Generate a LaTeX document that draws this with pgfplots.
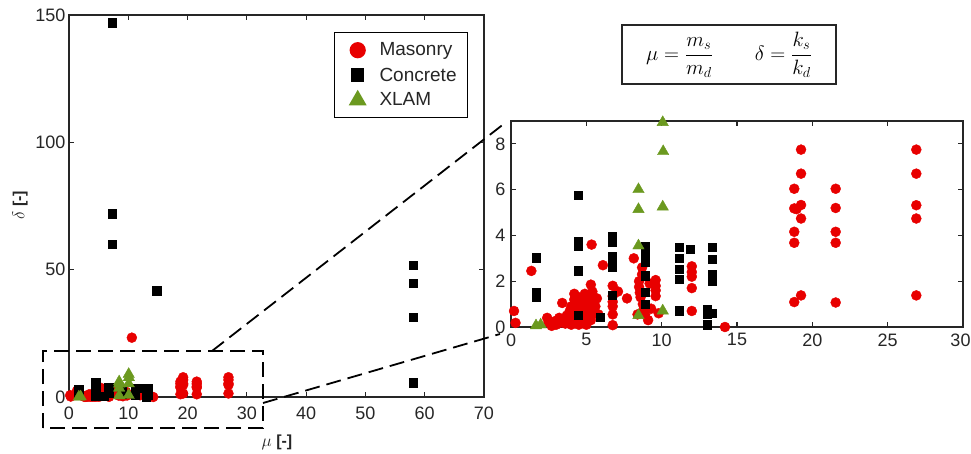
\documentclass[border=0pt]{standalone}
\usepackage{pgfplots}
\pgfplotsset{compat=1.18}
\usepackage{pgfplotstable}
\usepackage{fontspec}
\setmainfont{Liberation Sans}
\definecolor{mred}{RGB}{232,0,0}
\definecolor{xgreen}{RGB}{107,153,31}
\definecolor{axgray}{RGB}{38,38,38}

\pgfplotstableread{
x y
0.2 0.70
0.3 0.18
1.35 2.45
2.4 0.40
2.5 0.20
2.7 0.05
2.9 0.25
3.0 0.10
3.2 0.40
3.3 0.20
3.4 1.05
3.5 0.35
3.6 0.15
3.7 0.50
3.8 0.30
3.9 0.70
4.0 0.10
4.0 0.90
4.1 0.45
4.2 1.20
4.2 1.45
4.3 0.25
4.3 0.75
4.4 1.00
4.5 0.10
4.5 1.30
4.6 0.55
4.7 0.85
4.7 1.15
4.8 0.35
4.9 1.45
4.9 0.70
5.0 0.10
5.0 1.00
5.1 0.50
5.2 1.25
5.2 0.80
5.3 1.85
5.3 0.30
5.4 1.55
5.4 0.60
5.5 1.10
5.6 0.90
5.7 1.25
5.8 0.55
6.1 2.70
5.35 3.60
6.75 1.80
6.75 1.35
6.75 1.10
6.75 0.90
6.75 0.55
6.75 0.08
7.1 1.55
7.7 1.25
8.15 3.00
8.4 0.55
8.5 2.00
8.5 1.75
8.55 1.50
8.6 1.30
8.7 2.60
8.7 2.30
8.75 1.00
8.8 0.75
8.9 0.55
9.1 0.30
9.2 1.90
9.3 0.80
9.6 2.05
9.6 1.80
9.6 1.60
9.6 1.35
9.8 0.60
12.0 2.65
12.0 2.40
12.0 2.20
12.0 1.70
12.0 0.70
14.2 0.00
18.8 6.04
18.8 5.18
18.95 5.15
18.8 4.16
18.8 3.68
18.8 1.09
19.25 7.75
19.25 6.70
19.25 5.33
19.25 4.74
19.25 1.38
21.55 6.04
21.55 5.20
21.55 4.16
21.55 3.68
21.55 1.07
26.9 7.75
26.9 6.70
26.9 5.32
26.9 4.74
26.9 1.38
}\masonry

\pgfplotstableread{
x y
10.6 23.3
}\masonryout

\pgfplotstableread{
x y
1.66 3.03
1.66 1.51
1.66 1.33
4.47 5.75
4.47 3.72
4.47 3.55
4.47 2.46
4.47 0.52
5.91 0.43
6.73 3.94
6.73 3.72
6.73 3.07
6.73 2.64
6.73 1.38
8.9 3.50
8.9 3.29
8.9 3.07
8.9 2.86
8.9 2.25
8.9 1.51
8.9 1.00
11.16 3.48
11.16 3.00
11.16 2.52
11.16 2.09
11.16 0.71
11.89 3.41
13.04 0.78
13.04 0.58
13.04 0.10
13.37 3.48
13.37 2.96
13.37 2.28
13.37 2.03
13.37 0.61
}\concrete

\pgfplotstableread{
x y
7.3 147
7.3 71.9
7.3 60.1
14.8 41.8
58.1 51.7
58.1 44.7
58.1 31.3
58.1 5.6
}\concreteout

\pgfplotstableread{
x y
1.66 0.06
1.97 0.10
8.46 6.01
8.46 5.14
8.46 3.55
8.46 0.51
10.07 8.94
10.1 7.67
10.07 5.25
10.07 0.71
}\xlam

\pgfplotsset{
  myaxis/.style={
    scale only axis, anchor=south west, clip=false,
    axis line style={axgray, line width=1.4pt},
    every tick/.style={axgray, line width=1.2pt},
    tick align=inside, major tick length=5pt,
    /pgf/number format/assume math mode=true,
    tick label style={font=\fontsize{18}{20}\selectfont, text=axgray},
    scaled ticks=false,
  },
  pmas/.style={only marks, mark=*, mark size=5pt, color=mred},
  pcon/.style={only marks, mark=square*, mark size=4.2pt, color=black},
  pxl/.style={only marks, mark=triangle*, mark size=6.6pt, color=xgreen},
  lgimg/.style={legend image code/.code={\path[draw=none, fill=none] (-7pt,0pt) -- (7pt,0pt);
      \draw[##1] plot coordinates {(7pt,0pt)};}},
}

\begin{document}
\begin{tikzpicture}[x=1pt,y=1pt]
\path[use as bounding box] (0,0) rectangle (971,453);

\begin{axis}[myaxis, at={(69pt,56pt)}, width=415pt, height=382pt,
  xmin=0, xmax=70, ymin=0, ymax=150,
  xtick={0,10,...,70}, ytick={0,50,100,150},
  xticklabel style={yshift=-6pt},
  legend style={at={(0.6386,0.9555)}, anchor=north west, draw=black, line width=1.4pt,
    font=\fontsize{19}{22}\selectfont, text=axgray, inner xsep=9pt, inner ysep=5pt,
    nodes={inner sep=2pt, minimum height=25pt},
    row sep=0pt,
    /tikz/every odd column/.style={column sep=12pt}},
  legend cell align=left,
]
\addlegendimage{only marks, mark=*, mark size=7.4pt, color=mred, lgimg}
\addlegendentry{Masonry}
\addlegendimage{only marks, mark=square*, mark size=6pt, color=black, lgimg}
\addlegendentry{Concrete}
\addlegendimage{only marks, mark=triangle*, mark size=9pt, color=xgreen, lgimg}
\addlegendentry{XLAM}
\addplot[pmas, forget plot] table {\masonry};
\addplot[pmas, forget plot] table {\masonryout};
\addplot[pcon, forget plot] table {\concrete};
\addplot[pcon, forget plot] table {\concreteout};
\addplot[pxl, forget plot] table {\xlam};
\end{axis}

\begin{axis}[myaxis, at={(511pt,126pt)}, width=452pt, height=206pt,
  xmin=0, xmax=30, ymin=0, ymax=9,
  xtick={0,5,...,30}, ytick={0,2,4,6,8},
  xticklabels={0,5,10,15,20,25,\hspace*{-5pt}30},
  xticklabel style={yshift=-3pt},
  yticklabel style={xshift=-2pt},
]
\addplot[pmas] table {\masonry};
\addplot[pcon] table {\concrete};
\addplot[pxl] table {\xlam};
\end{axis}

% zoom rectangle and connectors
\draw[black, line width=1.8pt, dash pattern=on 15pt off 7pt] (43,25) rectangle (263,102);
\draw[black, line width=1.8pt, dash pattern=on 15pt off 7pt] (212,102) -- (505,330);
\draw[black, line width=1.8pt, dash pattern=on 15pt off 7pt] (263,50) -- (500,119);

% axis labels
\node[text=axgray, font=\fontsize{16}{18}\selectfont] at (277,11) {$\mu$ \textbf{[-]}};
\node[text=axgray, font=\fontsize{16}{18}\selectfont, rotate=90] at (20,248) {$\delta$ \textbf{[-]}};

% formula box
\draw[axgray, line width=1.4pt] (622,369) rectangle (836,428);
\node[font=\fontsize{21}{25}\selectfont] at (729,398.5) {$\mu=\displaystyle\frac{m_s}{m_d}\qquad\delta=\frac{k_s}{k_d}$};
\end{tikzpicture}
\end{document}
